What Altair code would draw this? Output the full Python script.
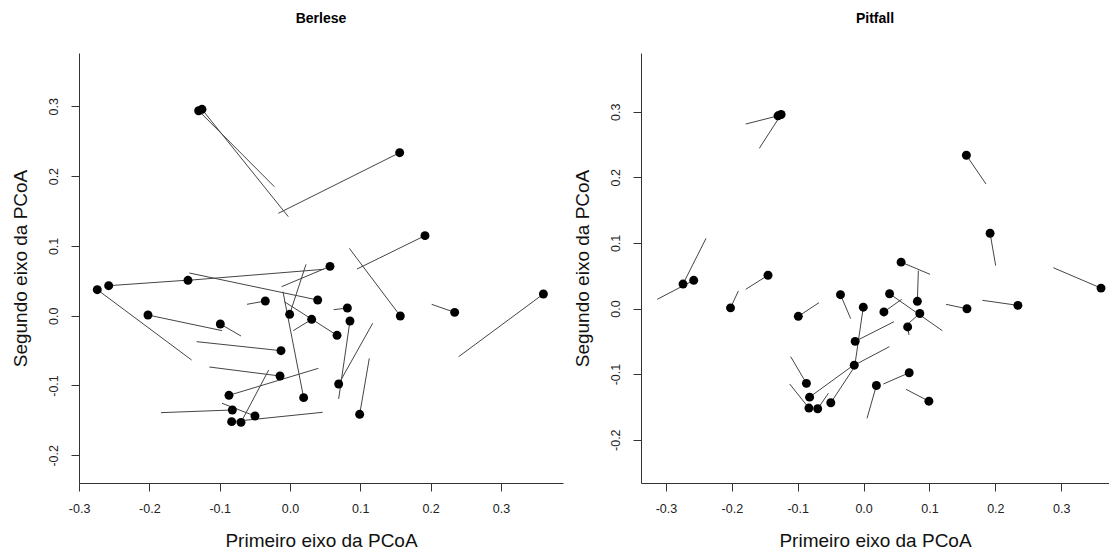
import altair as alt
import pandas as pd

# PCoA scores of the samples (first and second axis), shared by both panels
pt_x = [-0.1299, -0.1252, 0.1560, 0.1920, 0.0569, -0.1451, -0.2579, -0.2741, 0.0394, -0.0351,
        0.0816, -0.2020, -0.0005, 0.0308, 0.0853, -0.0991, 0.1569, 0.2342, 0.3604, 0.0669,
        -0.0128, -0.0142, 0.0692, -0.0868, 0.0194, -0.0820, -0.0498, -0.0830, -0.0697, 0.0991]
pt_y = [0.2937, 0.2957, 0.2336, 0.1147, 0.0707, 0.0507, 0.0430, 0.0373, 0.0225, 0.0211,
        0.0110, 0.0010, 0.0020, -0.0052, -0.0076, -0.0119, -0.0004, 0.0048, 0.0311, -0.0281,
        -0.0501, -0.0864, -0.0979, -0.1141, -0.1174, -0.1351, -0.1437, -0.1518, -0.1528, -0.1413]

# Procrustes targets, Berlese
ber_x = [-0.0223, -0.0024, -0.0166, 0.0953, -0.0119, 0.0484, -0.1432, -0.1399, -0.1432, -0.0612,
         0.0621, -0.0967, 0.0228, 0.0047, 0.0692, -0.0697, 0.0844, 0.2015, 0.2399, -0.0081,
         -0.1328, -0.1147, 0.1176, 0.0403, -0.0100, -0.1835, -0.0967, 0.0465, -0.0303, 0.1128]
ber_y = [0.1849, 0.1419, 0.1467, 0.0669, 0.0416, 0.0665, 0.0511, -0.0635, 0.0612, 0.0163,
         0.0086, -0.0214, 0.0736, -0.0214, -0.1193, -0.0291, 0.0965, 0.0163, -0.0587, 0.0201,
         -0.0372, -0.0735, -0.0109, -0.0754, 0.0344, -0.1389, -0.1255, -0.1384, -0.0778, -0.0611]

# Procrustes targets, Pitfall
pit_x = [-0.1789, -0.1583, 0.1858, 0.2005, 0.1008, -0.1790, -0.3133, -0.2392, 0.1195, -0.0196,
         0.0831, -0.1901, -0.0131, 0.0578, 0.0694, -0.0677, 0.1251, 0.1802, 0.2880, 0.0689,
         0.0461, 0.0391, 0.0300, -0.1107, 0.0052, -0.0156, -0.0156, -0.1122, -0.0535, 0.0644]
pit_y = [0.2812, 0.2442, 0.1898, 0.0653, 0.0521, 0.0292, 0.0140, 0.1070, -0.0338, -0.0155,
         0.0577, 0.0267, -0.0851, 0.0140, -0.0216, 0.0089, 0.0064, 0.0125, 0.0622, -0.0404,
         -0.0201, -0.0582, -0.1151, -0.0734, -0.1674, -0.0866, -0.0917, -0.1151, -0.1293, -0.1232]

x_ticks = [-0.3, -0.2, -0.1, 0.0, 0.1, 0.2, 0.3]
y_ticks = [-0.2, -0.1, 0.0, 0.1, 0.2, 0.3]

LABEL_EXPR = "datum.value < -0.0001 ? '-' + format(-datum.value, '.1f') : format(abs(datum.value), '.1f')"
LABEL_FONT = "Liberation Sans Narrow, Liberation Sans, Arial"


def panel(name, end_x, end_y, x_dom, y_dom, w, h):
    df = pd.DataFrame({"x": pt_x, "y": pt_y, "ex": end_x, "ey": end_y})
    xs = alt.Scale(domain=x_dom, nice=False, zero=False)
    ys = alt.Scale(domain=y_dom, nice=False, zero=False)
    x_axis = alt.Axis(values=x_ticks, labelExpr=LABEL_EXPR, title="Primeiro eixo da PCoA",
                      grid=False, tickSize=8, labelPadding=11, titlePadding=17,
                      labelFont=LABEL_FONT, labelFontSize=12.5, titleFontSize=19,
                      titleFontWeight="normal", labelColor="#222", titleColor="#111",
                      domainColor="#333", tickColor="#333", labelFlush=False,
                      labelOverlap=False)
    y_axis = alt.Axis(values=y_ticks, labelExpr=LABEL_EXPR, title="Segundo eixo da PCoA",
                      grid=False, tickSize=8, labelPadding=11, titlePadding=17,
                      labelAngle=270, labelAlign="center", labelBaseline="bottom",
                      labelFont=LABEL_FONT, labelFontSize=12.5, titleFontSize=19,
                      titleFontWeight="normal", labelColor="#222", titleColor="#111",
                      domainColor="#333", tickColor="#333", labelFlush=False,
                      labelOverlap=False)
    segs = alt.Chart(df).mark_rule(color="#444", strokeWidth=1).encode(
        x=alt.X("x:Q", scale=xs, axis=x_axis),
        y=alt.Y("y:Q", scale=ys, axis=y_axis),
        x2="ex:Q",
        y2="ey:Q",
    )
    pts = alt.Chart(df).mark_circle(size=80, color="black", opacity=1).encode(
        x=alt.X("x:Q", scale=xs),
        y=alt.Y("y:Q", scale=ys),
    )
    return alt.layer(segs, pts).properties(
        width=w, height=h,
        title=alt.TitleParams(name, fontSize=14, fontWeight="bold", font="Liberation Sans",
                              anchor="middle", offset=27, color="#000"),
    )


left = panel("Berlese", ber_x, ber_y, [-0.3001, 0.3883], [-0.2397, 0.3764], 484, 430)
right = panel("Pitfall", pit_x, pit_y, [-0.3379, 0.3725], [-0.2660, 0.3895], 468, 430)

chart = alt.hconcat(left, right, spacing=9).properties(
    padding={"left": 10, "top": 12, "right": 0, "bottom": 0}
).configure(
    font="Liberation Sans",
    background="white",
    view=alt.ViewConfig(stroke=None),
)

chart.save("out.html", embed_options={"renderer": "svg", "actions": False})
